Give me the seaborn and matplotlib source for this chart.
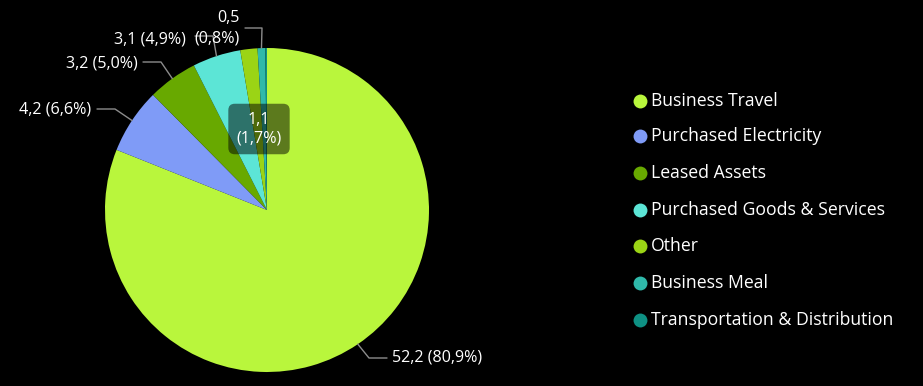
import numpy as np
import matplotlib
matplotlib.use("Agg")
import matplotlib.pyplot as plt
import seaborn as sns

categories = ["Business Travel", "Purchased Electricity", "Leased Assets",
              "Purchased Goods & Services", "Other", "Business Meal",
              "Transportation & Distribution"]
values = [52.2, 4.2, 3.2, 3.1, 1.1, 0.5, 0.1]
pct = [80.9, 6.6, 5.0, 4.9, 1.7, 0.8, 0.1]
colors = ["#b9f63c", "#7f9bf7", "#68a900", "#5ce5d6", "#9bd415", "#2fb9aa", "#0e9083"]

sns.set_theme(style="dark")
plt.rcParams['font.family'] = ['Open Sans', 'DejaVu Sans']

W, H = 923, 386
fig = plt.figure(figsize=(W / 100, H / 100), dpi=100, facecolor="black")
ax = fig.add_axes([0, 0, 1, 1])
ax.set_facecolor("black")

cx, cy, r = 267, H - 210, 162
wedges, _ = ax.pie(values, colors=colors, startangle=90, counterclock=False,
                   center=(cx, cy), radius=r, wedgeprops=dict(linewidth=0))
ax.set_xlim(0, W)
ax.set_ylim(0, H)
ax.set_aspect("equal")
ax.axis("off")

def fmt(v):
    return f"{v:.1f}".replace(".", ",")

fs = 11.6
lc = "#8c8c8c"
# per-label layout: (elbow x, elbow y, end x, text x, text y, ha, two-line)
layout = {
    0: (369, 358, 387, 392, 358, "left", False),
    1: (115, 109, 97, 91, 110, "right", False),
    2: (161, 62, 143, 138, 63, "right", False),
    3: (213, 36, 195, 186, 39, "right", False),
    5: (262, 28, 245, 240, 28.5, "right", True),
}
for i, w in enumerate(wedges):
    mid = np.deg2rad((w.theta1 + w.theta2) / 2)
    sx, sy = cx + r * np.cos(mid), cy + r * np.sin(mid)
    if i in layout:
        ex, ey, hx, tx, ty, ha, two = layout[i]
        ax.plot([sx, ex, hx], [sy, H - ey, H - ey], color=lc, lw=1, zorder=3)
        if two:
            txt = f"{fmt(values[i])}\n({fmt(pct[i])}%)"
        else:
            txt = f"{fmt(values[i])} ({fmt(pct[i])}%)"
        ax.text(tx, H - ty, txt, color="white", fontsize=fs, ha=ha, va="center",
                multialignment="right", linespacing=1.38, zorder=4)
    elif i == 4:
        ax.text(259, H - 129, f"{fmt(values[i])}\n({fmt(pct[i])}%)", color="white",
                fontsize=fs, ha="center", va="center", multialignment="center",
                linespacing=1.2, zorder=5,
                bbox=dict(boxstyle="round,pad=0.5,rounding_size=0.4",
                          facecolor="black", alpha=0.5, edgecolor="none"))

# legend
ys = [101, 136, 173, 210, 246, 283, 320]
for c, lab, y in zip(colors, categories, ys):
    ax.scatter([640], [H - y], s=100, color=c, zorder=4, linewidths=0)
    ax.text(651, H - y, lab, color="white", fontsize=12.7, ha="left",
            va="center", zorder=4)

fig.savefig("out.png", dpi=100, facecolor="black")
